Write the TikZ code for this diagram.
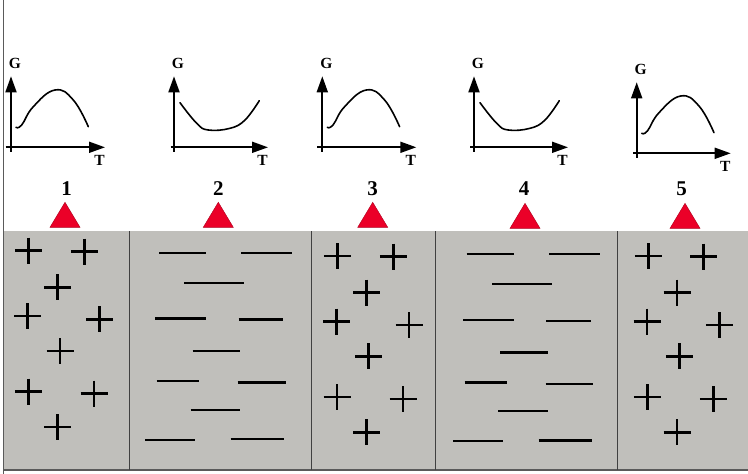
\documentclass[tikz,border=0pt]{standalone}
\usepackage{fontspec}
\setmainfont{Liberation Serif}
\usetikzlibrary{arrows.meta}
\definecolor{panelgray}{RGB}{192,191,187}
\definecolor{markred}{RGB}{235,0,40}
\definecolor{edgegray}{RGB}{90,90,90}
\tikzset{
  axis/.style={line width=1.8pt, -{Triangle[length=16pt,width=11pt]}},
  curve/.style={line width=1.6pt, line cap=round, line join=round},
  axlabel/.style={font=\bfseries\fontsize{15.5}{15.5}\selectfont, inner sep=0pt},
  numlabel/.style={font=\bfseries\fontsize{21}{21}\selectfont, inner sep=0pt},
  marker/.style={fill=markred, draw=markred!75!black, line width=0.4pt},
  plusmark/.style={line width=2.6pt},
  dashmark/.style={line width=2.4pt},
  divider/.style={draw=black!75, line width=0.8pt},
  hump/.pic={\draw[curve] plot[smooth, tension=0.75] coordinates {(5,-20) (10.7,-22.3) (22.3,-40.6) (44,-57.3) (62.3,-47.3) (77.3,-20.6)};},
  valley/.pic={\draw[curve] plot[smooth, tension=0.7] coordinates {(6,-44.6) (22.7,-24) (34.3,-17.3) (56,-19) (71,-27.3) (85.3,-46.6)};},
  plus/.pic={\draw[plusmark] (-13.5,0) -- (13.5,0) (0,-13) -- (0,13);}
}
\begin{document}
\begin{tikzpicture}[x=1pt,y=-1pt]
\useasboundingbox (0,0) rectangle (748,474);
\fill[white] (0,0) rectangle (748,474);

% gray band
\fill[panelgray] (3,231) rectangle (748,470);
\draw[edgegray, line width=1.2pt] (3,470) -- (748,470);
\draw[edgegray, line width=1.5pt] (3.5,0) -- (3.5,474);
\foreach \x in {129.5,311.7,435.5,617.7}
  \draw[divider] (\x,231) -- (\x,470);

% graphs: origin, x-axis start, labels
\foreach \ox/\oy/\xs/\kind in {11/147.3/-5.3/hump, 174/147.3/-3.3/valley, 322.3/147.3/-5/hump, 474/147.3/-4/valley, 636.7/153.3/-3.4/hump}{
  \begin{scope}[shift={(\ox,\oy)}]
    \draw[axis] (0,4.4) -- (0,-71);
    \draw[axis] (\xs,0) -- (94,0);
    \pic {\kind};
    \node[axlabel] at (4,-83.5) {G};
    \node[axlabel] at (88.5,12.7) {T};
  \end{scope}
}

% numbers and triangles
\foreach \n/\cx/\tx/\ty in {1/66.7/65/202.3, 2/218.3/218.3/202.3, 3/372.7/372.7/202.3, 4/524/525/203.3, 5/681.7/685/203.3}{
  \node[numlabel] (n\n) at (\cx,188.5) {\n};
  \fill[marker] (\tx,\ty) -- (\tx+15,\ty+25) -- (\tx-15,\ty+25) -- cycle;
}

% plus signs (panels 1, 3, 5)
\foreach \px/\py in {28.3/250.7, 84.3/251.7, 57.7/287.3, 27.7/316, 99.7/319.3, 60/351, 28.3/391.7, 94/393.7, 57.7/427,
  337.3/256, 393.3/256.7, 366.7/292.7, 336.7/321.7, 409/325, 368.7/356.3, 337/397, 403/399, 366.7/432.3,
  648.3/256, 703.7/256.7, 677/292.7, 647/321.7, 719.3/325, 679.3/356.3, 647.3/397, 713.3/399, 677/432.3}
  \pic at (\px,\py) {plus};

% dashes (panels 2, 4)
\foreach \a/\b/\y in {159/205.7/252.7, 241.3/292/252.7, 184/244/282.7, 155.3/206.3/318.3, 238.7/283.3/319.3, 192.7/240.3/351,
  156.7/199.3/381, 237.7/285.7/382.3, 190.7/240/409.7, 145.3/195/439.7, 230.7/284/439,
  466.7/513.7/254, 549.3/599.7/254, 492/551.7/284, 463/514/319.7, 546.3/591/320.7, 500.3/548/352.3,
  464.7/507/382.3, 545.7/593.3/383.7, 498.3/548/411, 453/502.7/440.7, 538.7/592/440.3}
  \draw[dashmark] (\a,\y) -- (\b,\y);
\end{tikzpicture}
\end{document}
